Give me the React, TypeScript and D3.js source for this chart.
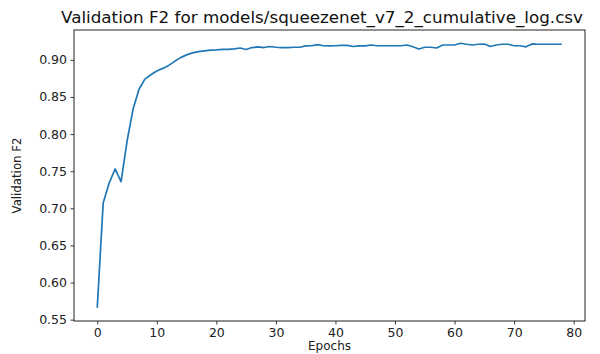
import React, { useEffect, useRef } from "react";
import * as d3 from "d3";

const epochs: number[] = d3.range(0, 79);
const f2Values: number[] = [
  0.566, 0.707, 0.734, 0.753, 0.736, 0.79, 0.833, 0.86, 0.874, 0.88,
  0.885, 0.8885, 0.8925, 0.898, 0.903, 0.9067, 0.9094, 0.911, 0.912, 0.913,
  0.9134, 0.914, 0.914, 0.9148, 0.916, 0.914, 0.9166, 0.9175, 0.9166, 0.918,
  0.917, 0.9166, 0.9166, 0.917, 0.917, 0.9188, 0.919, 0.9206, 0.919, 0.9188,
  0.919, 0.9195, 0.9195, 0.918, 0.9188, 0.9188, 0.92, 0.919, 0.919, 0.919,
  0.919, 0.919, 0.92, 0.9176, 0.9147, 0.917, 0.917, 0.916, 0.92, 0.92,
  0.92, 0.9224, 0.921, 0.92, 0.921, 0.9213, 0.918, 0.92, 0.921, 0.921,
  0.919, 0.919, 0.9175, 0.9215, 0.921, 0.921, 0.921, 0.921, 0.921,
];
const xTicks = [0, 10, 20, 30, 40, 50, 60, 70, 80];
const yTicks = [0.55, 0.6, 0.65, 0.7, 0.75, 0.8, 0.85, 0.9];
const title = "Validation F2 for models/squeezenet_v7_2_cumulative_log.csv";

const width = 600;
const height = 354;
const margin = { top: 30, right: 15, bottom: 33, left: 74 };

const App: React.FC = () => {
  const svgRef = useRef<SVGSVGElement | null>(null);

  useEffect(() => {
    const innerWidth = width - margin.left - margin.right;
    const innerHeight = height - margin.top - margin.bottom;

    const svg = d3.select(svgRef.current);
    svg.selectAll("*").remove();

    // matplotlib style 5% padding on both axes
    const xPad = (78 - 0) * 0.05;
    const yMin = d3.min(f2Values) as number;
    const yMax = d3.max(f2Values) as number;
    const yPad = (yMax - yMin) * 0.05;

    const x = d3
      .scaleLinear()
      .domain([0 - xPad, 78 + xPad])
      .range([0, innerWidth]);
    const y = d3
      .scaleLinear()
      .domain([yMin - yPad, yMax + yPad])
      .range([innerHeight, 0]);

    const g = svg
      .append("g")
      .attr("transform", `translate(${margin.left},${margin.top})`);

    g.append("path")
      .datum(epochs)
      .attr("fill", "none")
      .attr("stroke", "#1f77b4")
      .attr("stroke-width", 1.7)
      .attr("stroke-linejoin", "round")
      .attr(
        "d",
        d3
          .line<number>()
          .x((d) => x(d))
          .y((d, i) => y(f2Values[i]))
      );

    const xAxis = g
      .append("g")
      .attr("transform", `translate(0,${innerHeight})`)
      .call(
        d3
          .axisBottom(x)
          .tickValues(xTicks)
          .tickSize(3.5)
          .tickPadding(3.5)
          .tickFormat(d3.format("d"))
      );
    xAxis.select(".domain").remove();

    const yAxis = g
      .append("g")
      .call(
        d3
          .axisLeft(y)
          .tickValues(yTicks)
          .tickSize(3.5)
          .tickPadding(3.5)
          .tickFormat(d3.format(".2f"))
      );
    yAxis.select(".domain").remove();

    g.selectAll(".tick text")
      .attr("font-family", "DejaVu Sans")
      .attr("font-size", 12.5)
      .attr("fill", "#222");
    g.selectAll(".tick line").attr("stroke", "#222").attr("stroke-width", 0.9);

    g.append("rect")
      .attr("width", innerWidth)
      .attr("height", innerHeight)
      .attr("fill", "none")
      .attr("stroke", "#222")
      .attr("stroke-width", 1);

    svg
      .append("text")
      .attr("x", 322)
      .attr("y", 23)
      .attr("text-anchor", "middle")
      .attr("font-family", "DejaVu Sans")
      .attr("font-size", 15)
      .attr("fill", "#111")
      .attr("textLength", 522)
      .attr("lengthAdjust", "spacingAndGlyphs")
      .text(title);

    svg
      .append("text")
      .attr("x", margin.left + innerWidth / 2)
      .attr("y", 350)
      .attr("text-anchor", "middle")
      .attr("font-family", "DejaVu Sans")
      .attr("font-size", 12)
      .attr("fill", "#222")
      .text("Epochs");

    svg
      .append("text")
      .attr("transform", `translate(21,${margin.top + innerHeight / 2}) rotate(-90)`)
      .attr("text-anchor", "middle")
      .attr("font-family", "DejaVu Sans")
      .attr("font-size", 13)
      .attr("fill", "#222")
      .attr("textLength", 76)
      .attr("lengthAdjust", "spacingAndGlyphs")
      .text("Validation F2");
  }, []);

  return (
    <div style={{ position: "absolute", left: 0, top: 0 }}>
      <svg ref={svgRef} width={width} height={height} style={{ display: "block", background: "#fff" }}></svg>
    </div>
  );
};

export default App;
